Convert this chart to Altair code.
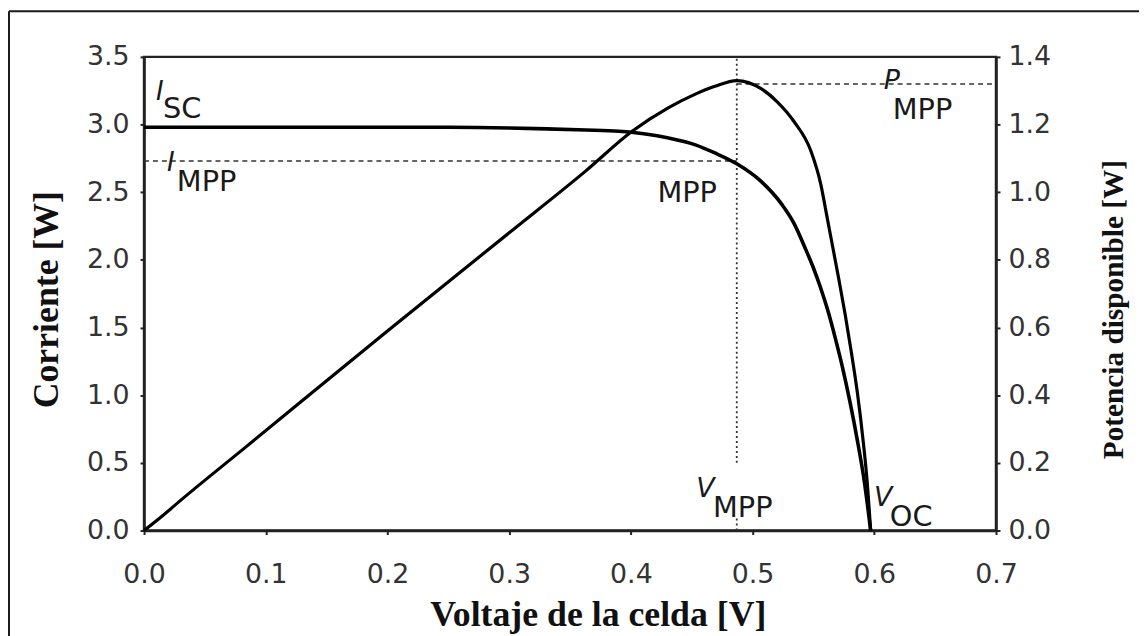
import altair as alt
import pandas as pd

# ---- data ----
# I-V curve (cell voltage [V], current)
v_current = [0.0, 0.05, 0.10, 0.15, 0.20, 0.25, 0.30, 0.322, 0.363, 0.390, 0.412, 0.431,
             0.453, 0.469, 0.487, 0.507, 0.524, 0.534, 0.544, 0.550, 0.556, 0.562, 0.568,
             0.574, 0.580, 0.586, 0.592, 0.597]
i_current = [2.98, 2.98, 2.98, 2.98, 2.98, 2.98, 2.975, 2.97, 2.96, 2.95, 2.93, 2.90,
             2.85, 2.79, 2.71, 2.58, 2.41, 2.27, 2.07, 1.94, 1.79, 1.62, 1.42,
             1.20, 0.95, 0.67, 0.35, 0.0]
# P-V curve (cell voltage [V], available power [W])
v_power = [0.0, 0.015, 0.031, 0.084, 0.20, 0.30, 0.363, 0.401, 0.431, 0.453, 0.469, 0.487,
           0.507, 0.520, 0.534, 0.548, 0.556, 0.561, 0.566, 0.571, 0.576, 0.581, 0.586,
           0.591, 0.594, 0.597]
p_power = [0.0, 0.043, 0.092, 0.248, 0.59, 0.88, 1.063, 1.18, 1.25, 1.29, 1.313, 1.33,
           1.306, 1.268, 1.209, 1.121, 1.024, 0.93, 0.835, 0.74, 0.64, 0.53, 0.41,
           0.26, 0.15, 0.0]
# maximum power point
v_mpp = 0.487
i_mpp = 2.73
p_mpp = 1.32

x_ticks = [0.0, 0.1, 0.2, 0.3, 0.4, 0.5, 0.6, 0.7]
yl_ticks = [0.0, 0.5, 1.0, 1.5, 2.0, 2.5, 3.0, 3.5]
yr_ticks = [0.0, 0.2, 0.4, 0.6, 0.8, 1.0, 1.2, 1.4]

x_title = "Voltaje de la celda [V]"
yl_title = "Corriente [W]"
yr_title = "Potencia disponible [W]"

df_i = pd.DataFrame({"V": v_current, "I": i_current})
df_p = pd.DataFrame({"V": v_power, "P": p_power})
one = pd.DataFrame({"k": [0]})

W, H = 858, 477
LABEL_FONT = "DejaVu Sans"
TITLE_FONT = "Liberation Serif"
INK = "#1a1a1a"

x_scale = alt.Scale(domain=[0, 0.7], nice=False, zero=False)
yl_scale = alt.Scale(domain=[0, 3.5], nice=False)
yr_scale = alt.Scale(domain=[0, 1.4], nice=False)

x_axis = alt.Axis(values=x_ticks, format=".1f", title=x_title, labelFlush=False,
                  labelPadding=27, titleX=457, titleY=96, titleAlign="center",
                  titleBaseline="alphabetic", titleFontSize=36)
yl_axis = alt.Axis(values=yl_ticks, format=".1f", title=yl_title, labelPadding=11,
                   titleAngle=270, titleX=-98, titleY=244, titleAlign="center",
                   titleBaseline="middle", titleFontSize=36)
yr_axis = alt.Axis(values=yr_ticks, format=".1f", title=yr_title, orient="right",
                   labelPadding=8, titleAngle=270, titleX=118, titleY=254,
                   titleAlign="center", titleBaseline="middle", titleFontSize=29.5)

# ---- left (current) layer ----
i_line = alt.Chart(df_i).mark_line(color="black", strokeWidth=3.6, interpolate="monotone").encode(
    x=alt.X("V:Q", scale=x_scale, axis=x_axis),
    y=alt.Y("I:Q", scale=yl_scale, axis=yl_axis),
)
i_ref = alt.Chart(one).mark_rule(color="#333", strokeWidth=1.6, strokeDash=[5, 4]).encode(
    x=alt.datum(0.0), x2=alt.datum(v_mpp), y=alt.datum(i_mpp)
)
v_ref_top = alt.Chart(one).mark_rule(color="#333", strokeWidth=1.8, strokeDash=[2, 3]).encode(
    x=alt.datum(v_mpp), y=alt.datum(0.5), y2=alt.datum(3.5)
)
v_ref_bot = alt.Chart(one).mark_rule(color="#333", strokeWidth=1.8, strokeDash=[2, 3]).encode(
    x=alt.datum(v_mpp), y=alt.datum(0.0), y2=alt.datum(0.09)
)
left = alt.layer(i_ref, v_ref_top, v_ref_bot, i_line)

# ---- right (power) layer ----
p_line = alt.Chart(df_p).mark_line(color="black", strokeWidth=3.2, interpolate="monotone").encode(
    x=alt.X("V:Q", scale=x_scale),
    y=alt.Y("P:Q", scale=yr_scale, axis=yr_axis),
)
p_ref = alt.Chart(one).mark_rule(color="#333", strokeWidth=1.6, strokeDash=[5, 4]).encode(
    x=alt.datum(v_mpp), x2=alt.datum(0.7), y=alt.datum(p_mpp)
)
right = alt.layer(p_ref, p_line)


# ---- annotations ----
def label(txt, x, y, italic=False, size=29):
    return alt.Chart(one).mark_text(
        align="left", baseline="alphabetic", font=LABEL_FONT, fontSize=size,
        fontStyle="italic" if italic else "normal", color=INK,
    ).encode(x=alt.value(x), y=alt.value(y), text=alt.value(txt))


texts = [
    label("I", 12, 43, italic=True, size=26),
    label("SC", 19, 62),
    label("I", 23, 115, italic=True, size=26),
    label("MPP", 33, 135),
    label("MPP", 517, 146),
    label("P", 745, 32, italic=True, size=27),
    label("MPP", 754, 63),
    label("V", 556, 443, italic=True, size=27),
    label("MPP", 573, 463),
    label("V", 735, 452, italic=True, size=27),
    label("OC", 751, 472),
]

# outer frame of the figure (top and left edges visible)
frame_left = alt.Chart(one).mark_rule(color=INK, strokeWidth=2).encode(
    x=alt.value(-136), y=alt.value(-46), y2=alt.value(700)
)
frame_top = alt.Chart(one).mark_rule(color=INK, strokeWidth=2).encode(
    x=alt.value(-136), x2=alt.value(1100), y=alt.value(-46)
)

chart = (
    alt.layer(left, right, *texts, frame_left, frame_top)
    .resolve_scale(y="independent")
    .properties(
        width=W, height=H,
        autosize=alt.AutoSizeParams(type="none"),
        padding={"left": 137, "top": 47, "right": 144, "bottom": 104},
        background="white",
    )
    .configure_view(stroke="#222", strokeWidth=2.5)
    .configure_axis(
        grid=False,
        labelFont=LABEL_FONT, labelFontSize=27, labelColor="#333",
        domainColor="#222", domainWidth=2.5,
        tickColor="#222", tickSize=4, tickWidth=2,
        titleFont=TITLE_FONT, titleFontWeight="bold", titleColor="#111",
        labelOverlap=False,
    )
)

chart.save("out.html", embed_options={"renderer": "svg", "actions": False})
